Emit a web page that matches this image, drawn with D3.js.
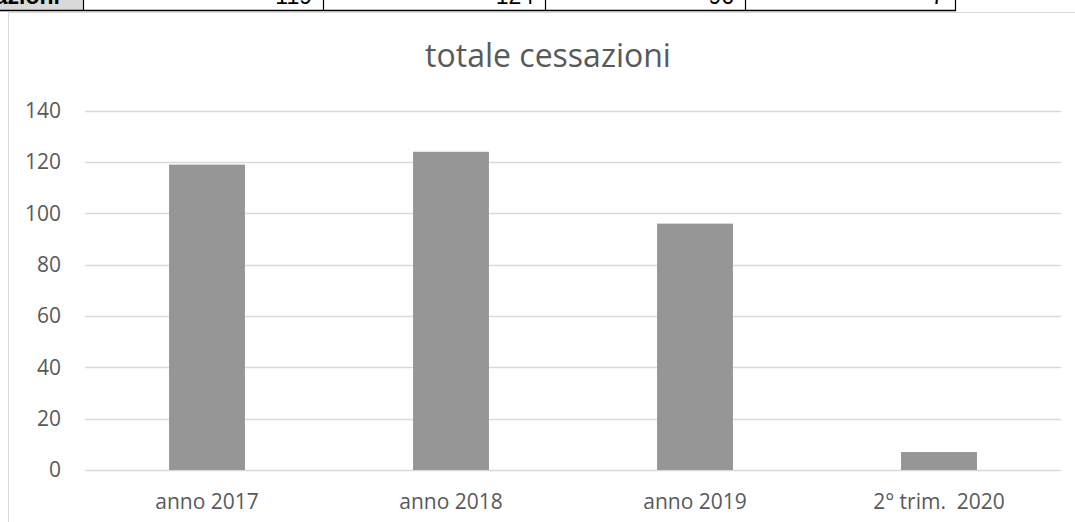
<!DOCTYPE html>
<html>
<head>
<meta charset="utf-8">
<script src="https://cdn.jsdelivr.net/npm/d3@7"></script>
<style>
  body { margin: 0; background: #fff; overflow: hidden; }
</style>
</head>
<body>
<script>
// data
var categories = ["anno 2017", "anno 2018", "anno 2019", "2° trim.  2020"];
var values = [119, 124, 96, 7];
var yTicks = [0, 20, 40, 60, 80, 100, 120, 140];
// table row above the chart (only its bottom edge is visible)
var tableLabel = "Totale cessazioni";
var tableCells = ["119", "124", "96", "7"];

var w = 1075;
var h = 522;

var svg = d3.select("body").append("svg")
    .attr("width", w)
    .attr("height", h);

// --- table strip at the top
var colEdges = [0, 83, 323, 545, 745, 955];
svg.append("rect")
    .attr("x", 0).attr("y", -20)
    .attr("width", colEdges[1]).attr("height", 30)
    .attr("fill", "#d9d9d9");

svg.append("text")
    .attr("x", 60).attr("y", 4)
    .attr("text-anchor", "end")
    .attr("font-family", "Liberation Sans, Arial, sans-serif")
    .attr("font-weight", "bold")
    .attr("font-size", "23px")
    .attr("fill", "#000")
    .text(tableLabel);

svg.selectAll("text.cell")
    .data(tableCells)
    .enter()
    .append("text")
    .attr("class", "cell")
    .attr("x", function(d, i) { return colEdges[i + 2] - 11; })
    .attr("y", 4)
    .attr("text-anchor", "end")
    .attr("font-family", "Liberation Sans, Arial, sans-serif")
    .attr("font-size", "23px")
    .attr("fill", "#000")
    .text(function(d) { return d; });

svg.selectAll("line.col")
    .data(colEdges.slice(1))
    .enter()
    .append("line")
    .attr("class", "col")
    .attr("x1", function(d) { return d + 0.5; })
    .attr("x2", function(d) { return d + 0.5; })
    .attr("y1", 0).attr("y2", 11)
    .attr("stroke", "#000")
    .attr("stroke-width", 1.2);

svg.append("line")
    .attr("x1", 0).attr("x2", colEdges[colEdges.length - 1] + 1)
    .attr("y1", 10.5).attr("y2", 10.5)
    .attr("stroke", "#000")
    .attr("stroke-width", 1.5);

// --- chart frame
svg.append("rect")
    .attr("x", 8.5).attr("y", 12.5)
    .attr("width", w + 20).attr("height", h + 20)
    .attr("fill", "none")
    .attr("stroke", "#d9d9d9")
    .attr("stroke-width", 1);

// --- scales
var x = d3.scaleBand()
    .domain(categories)
    .range([85, 1061])
    .paddingInner(0.689)
    .paddingOuter(0.3445);

var y = d3.scaleLinear()
    .domain([0, 140])
    .range([470, 110.7]);

var textColor = "#595959";
var font = "Open Sans, Lato, sans-serif";

// gridlines
svg.append("g")
    .selectAll("line")
    .data(yTicks)
    .enter()
    .append("line")
    .attr("x1", 85).attr("x2", 1061)
    .attr("y1", function(d) { return Math.round(y(d)) + 0.5; })
    .attr("y2", function(d) { return Math.round(y(d)) + 0.5; })
    .attr("stroke", "#d9d9d9")
    .attr("stroke-width", 1.5);

// y axis labels
var yAxis = d3.axisLeft(y).tickValues(yTicks).tickSize(0).tickPadding(0);
svg.append("g")
    .attr("transform", "translate(61,0)")
    .call(yAxis)
    .call(function(g) { g.select(".domain").remove(); })
    .selectAll("text")
    .attr("font-family", font)
    .attr("font-size", "21px")
    .attr("fill", textColor);

// bars
svg.append("g")
    .selectAll("rect")
    .data(values)
    .enter()
    .append("rect")
    .attr("x", function(d, i) { return x(categories[i]); })
    .attr("y", function(d) { return y(d); })
    .attr("width", x.bandwidth())
    .attr("height", function(d) { return y(0) - y(d); })
    .attr("fill", "#969696");

// x axis labels
var xAxis = d3.axisBottom(x).tickSize(0).tickPadding(0);
svg.append("g")
    .attr("transform", "translate(0,470)")
    .call(xAxis)
    .call(function(g) { g.select(".domain").remove(); })
    .selectAll("text")
    .attr("dy", null)
    .attr("y", 39)
    .attr("font-family", font)
    .attr("font-size", "21px")
    .attr("fill", textColor)
    .style("white-space", "pre")
    .attr("xml:space", "preserve");

// title
svg.append("text")
    .attr("x", 548)
    .attr("y", 67)
    .attr("text-anchor", "middle")
    .attr("font-family", font)
    .attr("font-size", "32px")
    .attr("fill", textColor)
    .text("totale cessazioni");
</script>
</body>
</html>
